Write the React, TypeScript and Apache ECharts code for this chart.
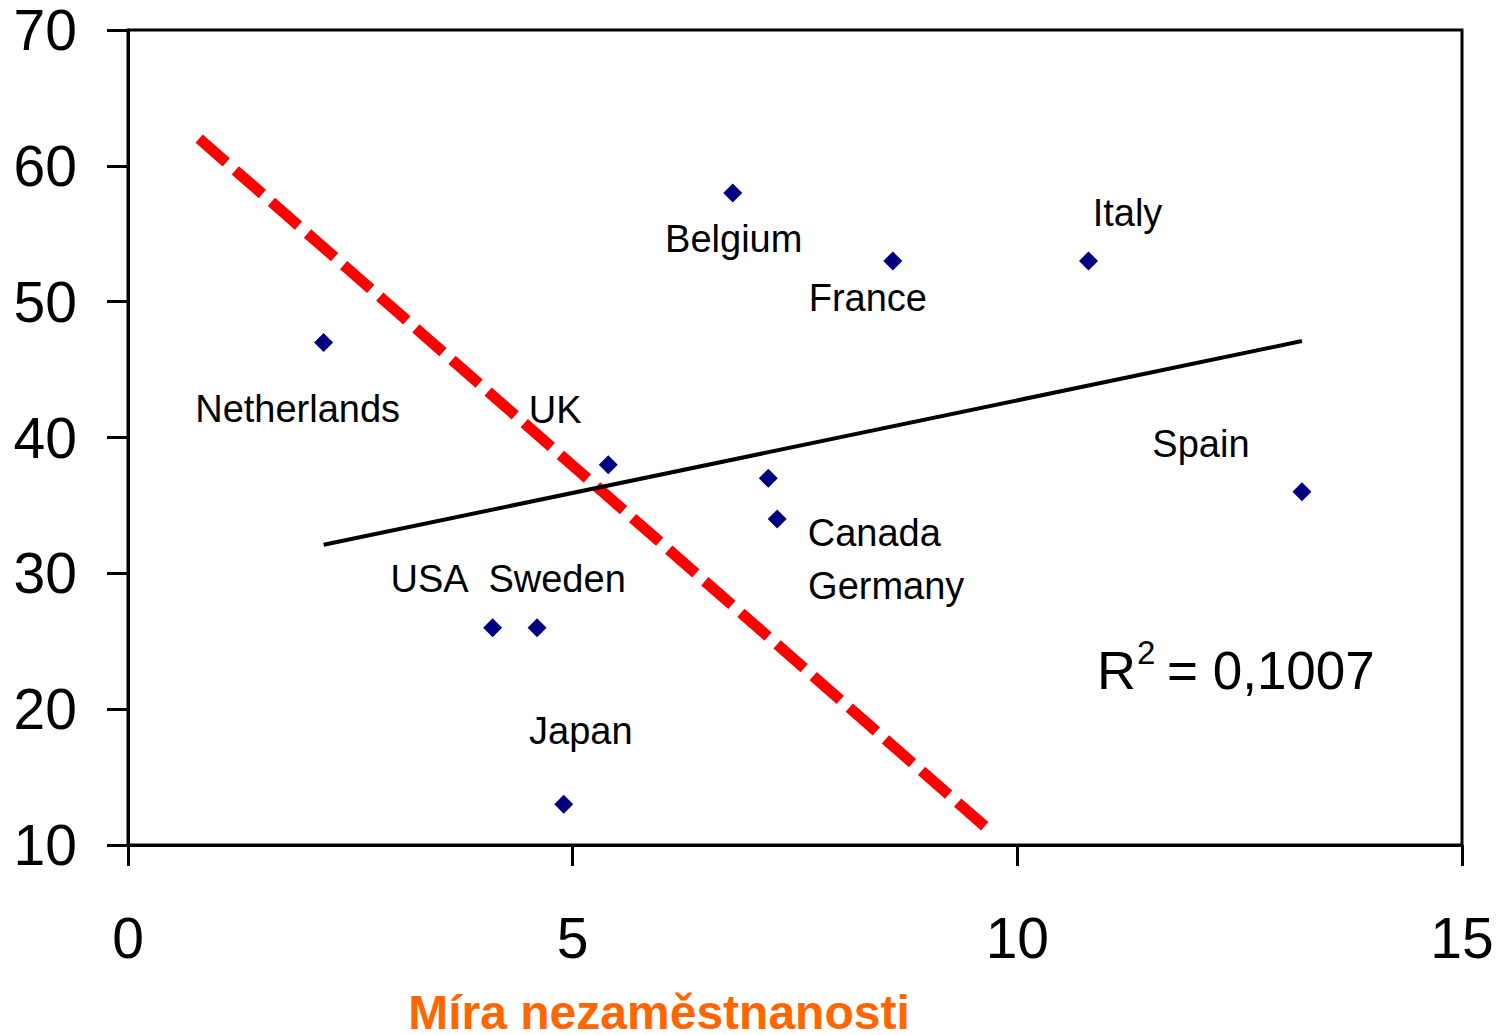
import React, { useEffect, useRef } from "react";
import * as echarts from "echarts";

// ---- data ----
const countries = ["Netherlands", "USA", "Sweden", "Japan", "UK", "Belgium", "Canada", "Germany", "France", "Italy", "Spain"];
const unemployment = [2.2, 4.1, 4.6, 4.9, 5.4, 6.8, 7.2, 7.3, 8.6, 10.8, 13.2];
const values = [47, 26, 26, 13, 38, 58, 37, 34, 53, 53, 36];
const trendX = [2.2, 13.2];
const trendY = [32.1, 47.1];
const redLineX = [0.8, 9.7];
const redLineY = [62, 11];
const xTickLabels = [0, 5, 10, 15];
const yTickLabels = [10, 20, 30, 40, 50, 60, 70];
const r2Text = "= 0,1007";
const xAxisTitle = "Míra nezaměstnanosti";

const FONT = "'Liberation Sans', Arial, Helvetica, sans-serif";

export default function App() {
  const ref = useRef<HTMLDivElement>(null);

  useEffect(() => {
    if (!ref.current) return;
    const chart = echarts.init(ref.current, undefined, { renderer: "svg" });

    // label placement (px offsets from each marker), styling only
    const labelOffsets: Record<string, [number, number]> = {
      Netherlands: [-26, 67],
      USA: [-63, -49],
      Sweden: [20, -49],
      Japan: [17, -73],
      UK: [-53, -55],
      Belgium: [1, 46],
      Canada: [106, 55],
      Germany: [109, 67],
      France: [-25, 37],
      Italy: [39, -48],
      Spain: [-101, -48],
    };

    const scatterData = countries.map((c, i) => ({
      name: c,
      value: [unemployment[i], values[i]],
      label: { offset: labelOffsets[c] },
    }));

    const xMin = xTickLabels[0];
    const xMax = xTickLabels[xTickLabels.length - 1];
    const yMin = yTickLabels[0];
    const yMax = yTickLabels[yTickLabels.length - 1];

    chart.setOption({
      animation: false,
      backgroundColor: "#ffffff",
      grid: {
        left: 128,
        right: 47,
        top: 30,
        bottom: 190,
        show: true,
        borderColor: "#000",
        borderWidth: 3,
        backgroundColor: "transparent",
      },
      xAxis: {
        type: "value",
        min: xMin,
        max: xMax,
        interval: 5,
        splitLine: { show: false },
        axisLine: { show: true, onZero: false, lineStyle: { color: "#000", width: 3 } },
        axisTick: { show: true, length: 21, lineStyle: { color: "#000", width: 3 } },
        axisLabel: {
          color: "#000",
          fontSize: 57,
          fontFamily: FONT,
          margin: 64,
        },
      },
      yAxis: {
        type: "value",
        min: yMin,
        max: yMax,
        interval: 10,
        splitLine: { show: false },
        axisLine: { show: true, onZero: false, lineStyle: { color: "#000", width: 3 } },
        axisTick: { show: true, length: 21, lineStyle: { color: "#000", width: 3 } },
        axisLabel: {
          color: "#000",
          fontSize: 57,
          fontFamily: FONT,
          margin: 51,
        },
      },
      series: [
        {
          type: "line",
          data: redLineX.map((x, i) => [x, redLineY[i]]),
          symbol: "none",
          silent: true,
          z: 2,
          lineStyle: { color: "#FF0000", width: 11, type: [36, 12], cap: "butt", opacity: 1 },
        },
        {
          type: "line",
          data: trendX.map((x, i) => [x, trendY[i]]),
          symbol: "none",
          silent: true,
          z: 3,
          lineStyle: { color: "#000000", width: 4, opacity: 1 },
        },
        {
          type: "scatter",
          data: scatterData,
          symbol: "diamond",
          symbolSize: 19,
          z: 4,
          itemStyle: { color: "#000080", opacity: 1 },
          label: {
            show: true,
            position: "inside",
            formatter: "{b}",
            color: "#000000",
            opacity: 1,
            textBorderWidth: 0,
            fontSize: 38,
            fontFamily: FONT,
            align: "center",
            verticalAlign: "middle",
          },
        },
      ],
      graphic: [
        {
          type: "text",
          x: 1097,
          y: 670,
          style: {
            text: "R",
            fontSize: 54,
            fontFamily: FONT,
            fill: "#000",
            align: "left",
            verticalAlign: "middle",
          },
          z: 10,
        },
        {
          type: "text",
          x: 1137,
          y: 652,
          style: {
            text: "2",
            fontSize: 33,
            fontFamily: FONT,
            fill: "#000",
            align: "left",
            verticalAlign: "middle",
          },
          z: 10,
        },
        {
          type: "text",
          x: 1167,
          y: 670,
          style: {
            text: r2Text,
            fontSize: 53,
            fontFamily: FONT,
            fill: "#000",
            align: "left",
            verticalAlign: "middle",
          },
          z: 10,
        },
        {
          type: "text",
          x: 659,
          y: 1012,
          style: {
            text: xAxisTitle,
            fontSize: 48,
            fontWeight: "bold",
            fontFamily: FONT,
            fill: "#FF6600",
            align: "center",
            verticalAlign: "middle",
          },
          z: 10,
        },
      ],
    });

    return () => chart.dispose();
  }, []);

  return (
    <div
      ref={ref}
      style={{ position: "fixed", left: 0, top: 0, width: 1509, height: 1035, background: "#fff" }}
    />
  );
}
